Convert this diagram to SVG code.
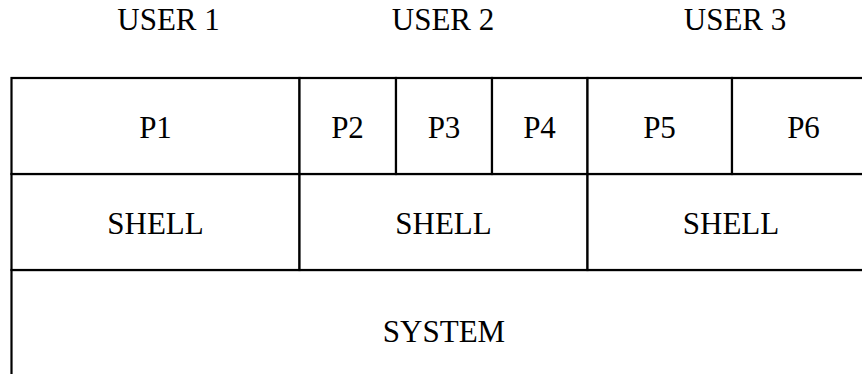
<svg xmlns="http://www.w3.org/2000/svg" width="862" height="374" viewBox="0 0 862 374">
<style>
.cell{fill:#fff;stroke:#000;stroke-width:2.2}
.t{font-family:"Liberation Serif","Times New Roman",serif;font-size:31px;fill:#000;text-anchor:middle}
</style>
<rect width="862" height="374" fill="#fff"/>
<g id="user1"><text class="t" x="168.5" y="30">USER 1</text></g>
<g id="user2"><text class="t" x="443" y="30">USER 2</text></g>
<g id="user3"><text class="t" x="735" y="30">USER 3</text></g>
<g id="system"><rect class="cell" x="11.5" y="270" width="864" height="130"/><text class="t" x="444" y="342">SYSTEM</text></g>
<g id="shell1"><rect class="cell" x="11.5" y="174" width="288" height="96"/><text class="t" x="155.5" y="234">SHELL</text></g>
<g id="shell2"><rect class="cell" x="299.5" y="174" width="288" height="96"/><text class="t" x="443.5" y="234">SHELL</text></g>
<g id="shell3"><rect class="cell" x="587.5" y="174" width="288" height="96"/><text class="t" x="731" y="234">SHELL</text></g>
<g id="p1"><rect class="cell" x="11.5" y="78" width="288" height="96"/><text class="t" x="155.5" y="138">P1</text></g>
<g id="p2"><rect class="cell" x="299.5" y="78" width="96.5" height="96"/><text class="t" x="347.5" y="138">P2</text></g>
<g id="p3"><rect class="cell" x="396" y="78" width="96" height="96"/><text class="t" x="444" y="138">P3</text></g>
<g id="p4"><rect class="cell" x="492" y="78" width="95.5" height="96"/><text class="t" x="539.5" y="138">P4</text></g>
<g id="p5"><rect class="cell" x="587.5" y="78" width="144.5" height="96"/><text class="t" x="659.5" y="138">P5</text></g>
<g id="p6"><rect class="cell" x="732" y="78" width="143.5" height="96"/><text class="t" x="803.5" y="138">P6</text></g>
<g id="connectors"></g>
</svg>
